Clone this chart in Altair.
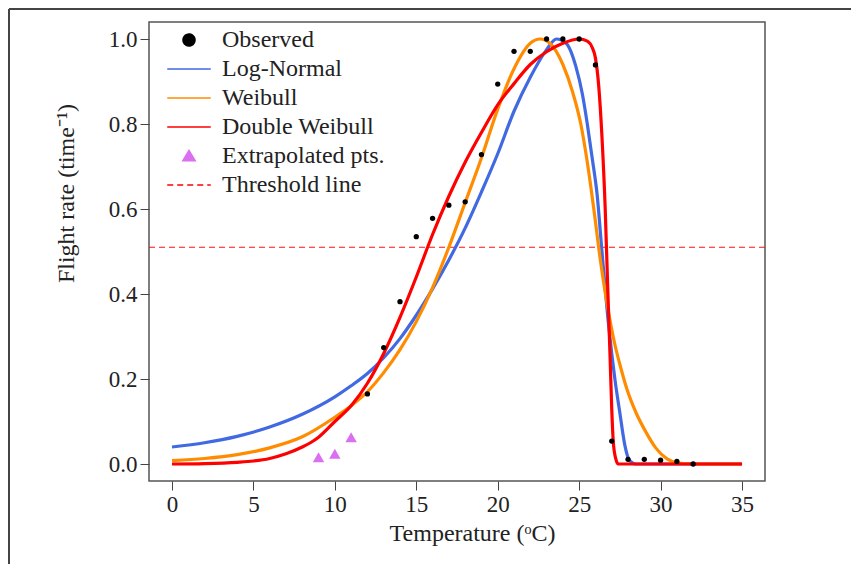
import altair as alt
import pandas as pd

# ---------------- data ----------------
series_names = ["Observed", "Log-Normal", "Weibull", "Double Weibull",
                "Extrapolated pts.", "Threshold line"]
series_colors = ["#000000", "#4169E1", "#FF8C00", "#FF0000", "#DA70F0", "#FF0000"]

obs_temp = [12, 13, 14, 15, 16, 17, 18, 19, 20, 21, 22, 23, 24, 25, 26, 27, 28, 29, 30, 31, 32]
obs_rate = [0.165, 0.274, 0.382, 0.535, 0.578, 0.609, 0.617, 0.728, 0.894, 0.971, 0.971,
            1.0, 1.0, 1.0, 0.939, 0.054, 0.011, 0.011, 0.009, 0.006, 0.0]

extra_temp = [9, 10, 11]
extra_rate = [0.016, 0.024, 0.063]

lognorm_temp = [0, 2, 4, 6, 8, 10, 11, 12, 13, 14, 15, 16, 17, 18, 19, 20, 21, 22, 23,
                23.6, 24.2, 24.8, 25.2, 25.5, 25.8, 26.1, 26.4, 26.8, 27.2, 27.5, 27.8,
                28.1, 28.5, 30, 35]
lognorm_rate = [0.040, 0.050, 0.065, 0.087, 0.117, 0.158, 0.184, 0.213, 0.250, 0.295,
                0.350, 0.412, 0.480, 0.555, 0.640, 0.730, 0.830, 0.910, 0.975, 1.0,
                0.990, 0.935, 0.870, 0.800, 0.720, 0.635, 0.500, 0.330, 0.198, 0.120,
                0.045, 0.008, 0.0, 0.0, 0.0]

weibull_temp = [0, 2, 4, 6, 8, 10, 11, 12, 13, 14, 15, 16, 17, 18, 19, 20, 21, 22, 22.6,
                23.2, 24, 24.6, 25.1, 25.5, 25.9, 26.3, 26.7, 27.2, 27.6, 27.9, 28.5,
                29.1, 29.7, 30.4, 31, 32, 35]
weibull_rate = [0.008, 0.013, 0.022, 0.038, 0.064, 0.110, 0.137, 0.170, 0.215, 0.269,
                0.335, 0.415, 0.510, 0.615, 0.720, 0.835, 0.930, 0.990, 1.0, 0.990,
                0.940, 0.875, 0.800, 0.710, 0.600, 0.480, 0.380, 0.280, 0.220, 0.180,
                0.120, 0.075, 0.038, 0.012, 0.003, 0.0, 0.0]

dweibull_temp = [0, 2, 4, 5, 6, 7, 8, 8.5, 9, 10, 11, 12, 13, 14, 15, 16, 17, 18, 19, 20,
                 21, 22, 23, 24, 25, 25.5, 25.8, 26.0, 26.2, 26.4, 26.6, 26.75, 26.9,
                 27.0, 27.1, 27.25, 27.4, 30, 35]
dweibull_rate = [0.0, 0.001, 0.004, 0.007, 0.013, 0.024, 0.040, 0.050, 0.063, 0.100,
                 0.137, 0.190, 0.260, 0.345, 0.440, 0.540, 0.630, 0.710, 0.780, 0.845,
                 0.895, 0.940, 0.970, 0.990, 1.0, 0.995, 0.980, 0.955, 0.890, 0.770,
                 0.600, 0.420, 0.250, 0.130, 0.050, 0.012, 0.0, 0.0, 0.0]

threshold_rate = 0.51

x_ticks = [0, 5, 10, 15, 20, 25, 30, 35]
y_ticks = [0.0, 0.2, 0.4, 0.6, 0.8, 1.0]

# ---------------- tables ----------------
obs_df = pd.DataFrame({"T": obs_temp, "rate": obs_rate})
extra_df = pd.DataFrame({"T": extra_temp, "rate": extra_rate})
curves_df = pd.concat([
    pd.DataFrame({"T": lognorm_temp, "rate": lognorm_rate, "model": "Log-Normal"}),
    pd.DataFrame({"T": weibull_temp, "rate": weibull_rate, "model": "Weibull"}),
    pd.DataFrame({"T": dweibull_temp, "rate": dweibull_rate, "model": "Double Weibull"}),
], ignore_index=True)
thr_df = pd.DataFrame({"rate": [threshold_rate]})
legend_df = pd.DataFrame({"series": series_names})

SERIF = "Liberation Serif"
xs = alt.Scale(domain=[-1.41, 36.41], nice=False, zero=False)
ys = alt.Scale(domain=[-0.04, 1.04], nice=False, zero=False)

x_axis = alt.Axis(values=x_ticks, title="Temperature (ᵒC)", grid=False, domain=False,
                  tickSize=9, tickColor="#444", labelFont=SERIF, labelFontSize=23,
                  labelColor="#222", labelPadding=3, titleFont=SERIF, titleFontSize=24,
                  titleFontWeight="normal", titleColor="#222", titleX=323, titleY=59,
                  titleAlign="center", titleBaseline="alphabetic")
y_axis = alt.Axis(values=y_ticks, format=".1f", title="Flight rate (time⁻¹)", grid=False,
                  domain=False, tickSize=9, tickColor="#444", labelFont=SERIF,
                  labelFontSize=23, labelColor="#222", labelPadding=3, titleFont=SERIF,
                  titleFontSize=24, titleFontWeight="normal", titleColor="#222",
                  titleX=-83, titleY=171, titleAlign="center", titleBaseline="middle",
                  titleAngle=270)

X = alt.X("T:Q", scale=xs, axis=x_axis)
Y = alt.Y("rate:Q", scale=ys, axis=y_axis)

threshold = alt.Chart(thr_df).mark_rule(color="#FF1010", strokeWidth=1.2,
                                        strokeDash=[6, 4]).encode(y=alt.Y("rate:Q", scale=ys))

curve_colors = alt.Scale(domain=["Log-Normal", "Weibull", "Double Weibull"],
                         range=["#4169E1", "#FF8C00", "#FF0000"])
curves = alt.Chart(curves_df).mark_line(strokeWidth=3.2, interpolate="monotone").encode(
    x=X, y=Y,
    color=alt.Color("model:N", scale=curve_colors, legend=None),
    order=alt.Order("T:Q"),
    detail="model:N",
)

observed = alt.Chart(obs_df).mark_point(filled=True, color="black", size=28,
                                        opacity=1, shape="circle").encode(x=X, y=Y)
extrap = alt.Chart(extra_df).mark_point(filled=True, color="#DA70F0", size=130,
                                        opacity=1, shape="triangle-up").encode(x=X, y=Y)

# legend (built from a hidden layer)
circle_path = "M-0.41,0A0.41,0.41,0,1,0,0.41,0A0.41,0.41,0,1,0,-0.41,0Z"
tri_path = "M0,-0.38L0.42,0.32L-0.42,0.32Z"
line_path = "M-1.5,0L1.5,0"
shapes = [circle_path, line_path, line_path, line_path, tri_path, line_path]
dashes = [[1, 0], [1, 0], [1, 0], [1, 0], [1, 0], [6, 4]]

leg = alt.Legend(title=None, orient="none", legendX=24.5, legendY=2.5, padding=0,
                 symbolSize=841, symbolStrokeWidth=1.6, symbolOpacity=1,
                 labelFont=SERIF, labelFontSize=24, labelColor="#222",
                 labelOffset=17.5, rowPadding=1, labelLimit=400)
legend_layer = alt.Chart(legend_df).mark_point(opacity=0, filled=True).encode(
    fill=alt.Fill("series:N", scale=alt.Scale(domain=series_names, range=series_colors), legend=leg),
    stroke=alt.Stroke("series:N", scale=alt.Scale(domain=series_names, range=series_colors), legend=leg),
    shape=alt.Shape("series:N", scale=alt.Scale(domain=series_names, range=shapes), legend=leg),
    strokeDash=alt.StrokeDash("series:N", scale=alt.Scale(domain=series_names, range=dashes), legend=leg),
)

# outer figure frame (left and top edges)
frame_left = alt.Chart(alt.Data(values=[{}])).mark_rule(color="#444", strokeWidth=2).encode(
    x=alt.value(-140), y=alt.value(-13), y2=alt.value(542))
frame_top = alt.Chart(alt.Data(values=[{}])).mark_rule(color="#444", strokeWidth=2).encode(
    x=alt.value(-140), x2=alt.value(702), y=alt.value(-13))

chart = alt.layer(frame_left, frame_top, threshold, curves, observed, extrap, legend_layer).resolve_scale(
    color="independent"
).properties(width=616, height=459, padding=0).configure_view(
    stroke="#555", strokeWidth=1.5
)

chart.save("out.html", embed_options={"renderer": "svg", "actions": False})
